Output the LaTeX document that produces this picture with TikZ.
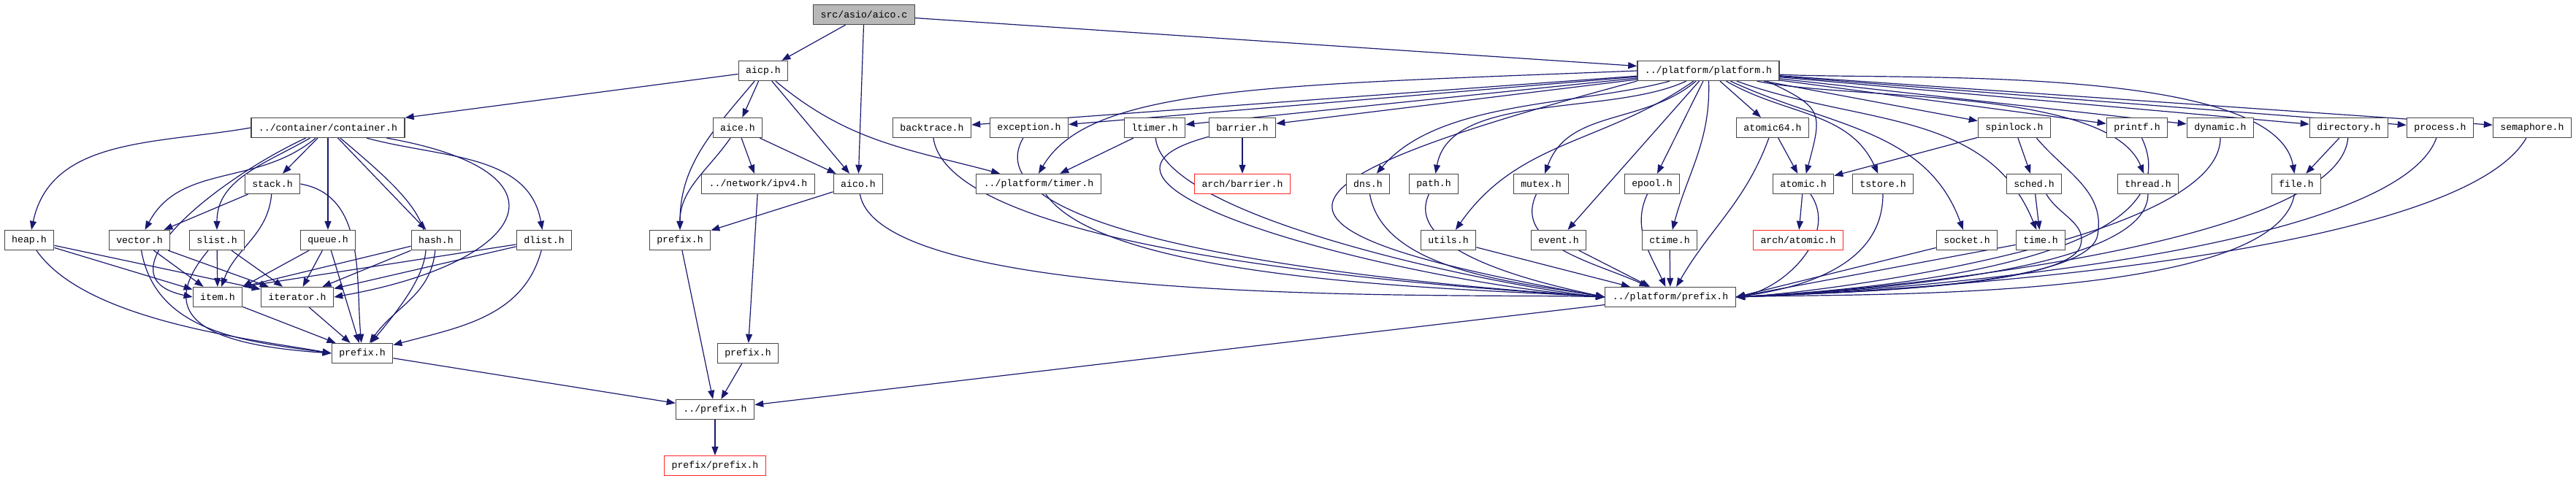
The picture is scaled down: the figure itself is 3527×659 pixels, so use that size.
\documentclass[tikz,border=0pt]{standalone}
\usepackage{fontspec}
\usepackage{tikz}
\usetikzlibrary{arrows.meta,backgrounds}
\newfontfamily\hdrfont{Liberation Mono}
\definecolor{edgeblue}{HTML}{191970}

\begin{document}
\begin{tikzpicture}[
    x=0.25pt, y=0.25pt,
    file/.style={draw=black!72, line width=0.33pt, fill=white, inner xsep=2.5pt, inner ysep=0pt,
      minimum height=6.75pt, font=\hdrfont\fontsize{3.3}{4}\selectfont},
    root/.style={file, fill=black!28},
    missing/.style={file, draw=red!85},
    dep/.style={draw=edgeblue, line width=0.3pt, -{Triangle[length=3pt,width=2.25pt]}} % Kanten der Include-Abhaengigkeiten
]
\useasboundingbox (0,0) rectangle (3527,-659);

% Ebene 0 und 1
\node[root] (aicoc) at (1183,-20) {src/asio/aico.c};
\node[file] (aicp) at (1045,-97) {aicp.h};
\node[file] (platform) at (2339,-97) {../platform/platform.h};

% Ebene 2
\node[file] (container) at (449,-175) {../container/container.h};
\node[file] (aice) at (1010,-175) {aice.h};
\node[file] (backtrace) at (1276,-175) {backtrace.h};
\node[file] (exception) at (1409,-175) {exception.h};
\node[file] (ltimer) at (1581,-175) {ltimer.h};
\node[file] (barrier) at (1701,-175) {barrier.h};
\node[file] (atomicsf) at (2427,-175) {atomic64.h};
\node[file] (spinlock) at (2758,-175) {spinlock.h};
\node[file] (printf) at (2926,-175) {printf.h};
\node[file] (dynamic) at (3040,-175) {dynamic.h};
\node[file] (directory) at (3216,-175) {directory.h};
\node[file] (process) at (3341,-175) {process.h};
\node[file] (semaphore) at (3467,-175) {semaphore.h};

% Ebene 3
\node[file] (stack) at (373,-252) {stack.h};
\node[file] (ipv4) at (1038,-252) {../network/ipv4.h};
\node[file] (aicoh) at (1175,-252) {aico.h};
\node[file] (timer) at (1422,-252) {../platform/timer.h};
\node[missing] (archbarrier) at (1701,-252) {arch/barrier.h};
\node[file] (dns) at (1873,-252) {dns.h};
\node[file] (path) at (1963,-252) {path.h};
\node[file] (mutex) at (2110,-252) {mutex.h};
\node[file] (epool) at (2262,-252) {epool.h};
\node[file] (atomic) at (2469,-252) {atomic.h};
\node[file] (tstore) at (2578,-252) {tstore.h};
\node[file] (sched) at (2785,-252) {sched.h};
\node[file] (thread) at (2941,-252) {thread.h};
\node[file] (file) at (3144,-252) {file.h};

% Ebene 4
\node[file] (heap) at (40,-329) {heap.h};
\node[file] (vector) at (191,-329) {vector.h};
\node[file] (slist) at (297,-329) {slist.h};
\node[file] (queue) at (449,-329) {queue.h};
\node[file] (hash) at (597,-329) {hash.h};
\node[file] (dlist) at (745,-329) {dlist.h};
\node[file] (prefixA) at (931,-329) {prefix.h};
\node[file] (utils) at (1983,-329) {utils.h};
\node[file] (event) at (2134,-329) {event.h};
\node[file] (ctime) at (2286,-329) {ctime.h};
\node[missing] (archatomic) at (2462,-329) {arch/atomic.h};
\node[file] (socket) at (2693,-329) {socket.h};
\node[file] (time) at (2794,-329) {time.h};

% Ebene 5 bis 8
\node[file] (item) at (298,-407) {item.h};
\node[file] (iterator) at (407,-407) {iterator.h};
\node[file] (pp) at (2287,-407) {../platform/prefix.h};
\node[file] (prefixC) at (496,-484) {prefix.h};
\node[file] (prefixB) at (1024,-484) {prefix.h};
\node[file] (uprefix) at (979,-561) {../prefix.h};
\node[missing] (pprefix) at (979,-638) {prefix/prefix.h};

\coordinate (spinbend) at (2872,-322);
\coordinate (schedbend) at (2848,-338);

\begin{pgfonlayer}{background}
% aico.c und aicp.h
\draw[dep] (aicoc) -- (aicp);
\draw[dep] (aicoc) -- (aicoh);
\draw[dep] (aicoc) -- (platform);
\draw[dep] (aicp) -- (container);
\draw[dep] (aicp) -- (aice);
\draw[dep] (aicp) to[out=-130,in=90] (prefixA);
\draw[dep] (aicp) -- (aicoh);
\draw[dep] (aicp) to[out=-40,in=165] (timer);
\draw[dep] (aice) to[out=-125,in=90] (prefixA);
\draw[dep] (aice) -- (ipv4);
\draw[dep] (aice) -- (aicoh);
\draw[dep] (aicoh) -- (prefixA);
\draw[dep] (aicoh) to[out=-80,in=178,looseness=0.4] (pp.west);
\draw[dep] (ipv4) -- (prefixB);
\draw[dep] (prefixA) -- (uprefix);
\draw[dep] (prefixB) -- (uprefix);
\draw[dep] (prefixC) -- (uprefix);
\draw[dep] (pp) -- (uprefix);
\draw[dep] (uprefix) -- (pprefix);

% container
\draw[dep] (container.west) to[out=190,in=78] (heap);
\draw[dep] (container) to[out=-155,in=168,looseness=1.3] (item.west);
\draw[dep] (container) to[out=-140,in=62] (vector);
\draw[dep] (container) to[out=-150,in=90] (slist);
\draw[dep] (container) -- (stack);
\draw[dep] (container) -- (queue);
\draw[dep] (container) -- (hash);
\draw[dep] (container) to[out=-40,in=50,looseness=1.6] (prefixC);
\draw[dep] (container) to[out=-15,in=100] (dlist);
\draw[dep] (container) to[out=-10,in=10,looseness=3] (iterator.east);
\draw[dep] (stack) -- (vector);
\draw[dep] (stack) to[out=-95,in=70] (item);
\draw[dep] (stack.east) to[out=-10,in=95] (prefixC);
\draw[dep] (heap) -- (item);
\draw[dep] (heap) -- (iterator);
\draw[dep] (heap) to[out=-55,in=170,looseness=0.7] (prefixC.west);
\draw[dep] (vector) -- (item);
\draw[dep] (vector) -- (iterator);
\draw[dep] (vector) to[out=-80,in=172] (prefixC.west);
\draw[dep] (slist) -- (item);
\draw[dep] (slist) -- (iterator);
\draw[dep] (slist) to[out=-130,in=176,looseness=1.6] (prefixC.west);
\draw[dep] (queue) -- (item.north east);
\draw[dep] (queue) -- (iterator);
\draw[dep] (queue) -- (prefixC);
\draw[dep] (hash) -- (item.north east);
\draw[dep] (hash) -- (iterator);
\draw[dep] (hash) to[out=-95,in=55] (prefixC);
\draw[dep] (dlist) -- (item.north east);
\draw[dep] (dlist) -- (iterator);
\draw[dep] (dlist) to[out=-105,in=15] (prefixC);
\draw[dep] (item) -- (prefixC);
\draw[dep] (iterator) -- (prefixC);

% platform.h
\draw[dep] (platform) -- (backtrace);
\draw[dep] (platform) -- (exception);
\draw[dep] (platform.west) .. controls +(-500,-20) and +(70,120) .. (timer.north);
\draw[dep] (platform) -- (ltimer);
\draw[dep] (platform) -- (barrier);
\draw[dep] (platform.south west) to[out=195,in=170,looseness=4.6] (pp.west);
\draw[dep] (platform) to[out=-165,in=50,looseness=0.8] (dns);
\draw[dep] (platform) to[out=-155,in=80,looseness=0.8] (path);
\draw[dep] (platform) to[out=-145,in=55] (utils);
\draw[dep] (platform) to[out=-140,in=70] (mutex);
\draw[dep] (platform) -- (event);
\draw[dep] (platform) -- (epool);
\draw[dep] (platform) to[out=-88,in=75] (ctime);
\draw[dep] (platform) -- (atomicsf);
\draw[dep] (platform.-10) to[out=-25,in=75,looseness=1.6] (atomic);
\draw[dep] (platform) to[out=-30,in=115] (tstore);
\draw[dep] (platform) to[out=-25,in=110] (socket);
\draw[dep] (platform) to[out=-20,in=112] (time);
\draw[dep] (platform) -- (spinlock);
\draw[dep] (platform) to[out=-12,in=112,looseness=0.6] (thread);
\draw[dep] (platform) -- (printf);
\draw[dep] (platform) -- (dynamic);
\draw[dep] (platform) -- (directory);
\draw[dep] (platform) to[out=-3,in=100,looseness=0.55] (file);
\draw[dep] (platform) -- (process);
\draw[dep] (platform) -- (semaphore);

% Seitenkanten
\draw[dep] (ltimer) -- (timer);
\draw[dep] (barrier) -- (archbarrier);
\draw[dep] (atomicsf) -- (atomic);
\draw[dep] (spinlock) -- (atomic);
\draw[dep] (spinlock) -- (sched);
\draw[dep] (sched) -- (time);
\draw[dep] (atomic) -- (archatomic);
\draw[dep] (directory) -- (file);

% alles nach ../platform/prefix.h
\draw[dep] (backtrace) to[out=-82,in=176,looseness=0.45] (pp.west);
\draw[dep] (exception) to[out=-120,in=176,looseness=0.55] (pp.west);
\draw[dep] (timer) to[out=-55,in=176,looseness=0.5] (pp.west);
\draw[dep] (ltimer) to[out=-85,in=175,looseness=0.45] (pp.west);
\draw[dep] (barrier) to[out=-165,in=176,looseness=1.15] (pp.west);
\draw[dep] (dns) to[out=-80,in=170,looseness=0.8] (pp.west);
\draw[dep] (path) to[out=-115,in=168,looseness=0.8] (pp.west);
\draw[dep] (utils) -- (pp);
\draw[dep] (mutex) to[out=-115,in=155] (pp);
\draw[dep] (event) -- (pp);
\draw[dep] (epool) to[out=-115,in=115] (pp);
\draw[dep] (ctime) -- (pp);
\draw[dep] (atomicsf) to[out=-110,in=60] (pp);
\draw[dep] (atomic) to[out=-55,in=10] (pp.east);
\draw[dep] (tstore) to[out=-90,in=8] (pp.east);
\draw[dep] (socket) -- (pp.east);
\draw[dep] (time) -- (pp.east);
\draw[dep] (spinlock.-25) to[out=-50,in=80] (spinbend) to[out=-100,in=4,looseness=0.4] (pp.east);
\draw[dep] (sched.-40) to[out=-60,in=70] (schedbend) to[out=-110,in=4,looseness=0.35] (pp.east);
\draw[dep] (thread) to[out=-90,in=3,looseness=0.5] (pp.east);
\draw[dep] (printf) to[out=-65,in=3,looseness=0.8] (pp.east);
\draw[dep] (dynamic) to[out=-90,in=3,looseness=0.5] (pp.east);
\draw[dep] (file) to[out=-100,in=2,looseness=0.5] (pp.east);
\draw[dep] (directory) to[out=-95,in=2,looseness=0.45] (pp.east);
\draw[dep] (process) to[out=-110,in=2,looseness=0.45] (pp.east);
\draw[dep] (semaphore) to[out=-120,in=2,looseness=0.45] (pp.east);
\end{pgfonlayer}
\end{tikzpicture}
\end{document}
